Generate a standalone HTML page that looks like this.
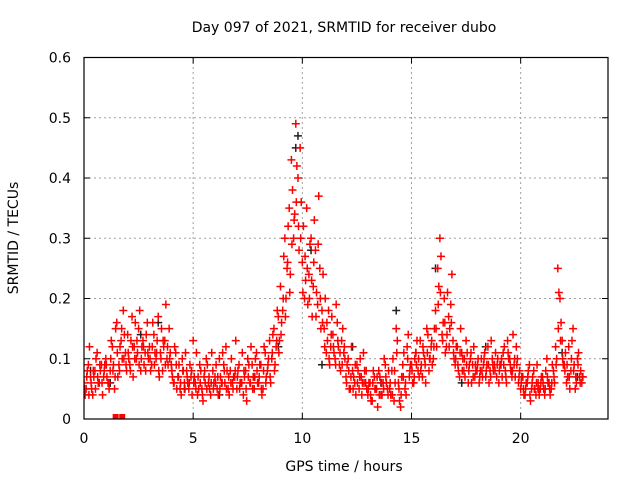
<!DOCTYPE html>
<html><head><meta charset="utf-8"><style>
body{margin:0;background:#fff}
svg{display:block;font-family:"DejaVu Sans","Liberation Sans",sans-serif}
</style></head><body>
<svg id="chart" width="640" height="480" viewBox="0 0 640 480">
<rect width="640" height="480" fill="#fff"/>
<text x="344" y="32" font-size="14" text-anchor="middle">Day 097 of 2021, SRMTID for receiver dubo</text>
<text transform="translate(18,238) rotate(-90)" font-size="14" text-anchor="middle">SRMTID / TECUs</text>
<text x="344" y="471" font-size="14" text-anchor="middle">GPS time / hours</text>
<defs><clipPath id="clip"><rect x="84" y="57" width="524" height="362"/></clipPath></defs>
<g id="grid"></g>
<g id="marks" clip-path="url(#clip)"></g>
<rect x="84" y="57.5" width="524" height="361.5" fill="none" stroke="#000" stroke-width="1.2"/>
<g id="ticks"></g>
</svg>
<script>
const xTicks=[0,5,10,15,20];
const yTicks=[0,0.1,0.2,0.3,0.4,0.5,0.6];
const yTickLabels=["0","0.1","0.2","0.3","0.4","0.5","0.6"];
const seriesA=[.06,.05,.09,.07,.04,.08,.11,.06,.09,.07,
.10,.06,.08,.12,.05,.16,.09,.13,.18,.11,
.14,.09,.17,.12,.10,.15,.08,.13,.11,.16,
.12,.09,.14,.10,.17,.11,.08,.13,.10,.15,
.09,.06,.11,.07,.05,.10,.06,.08,.05,.07,
.13,.06,.04,.09,.05,.07,.10,.06,.04,.08,
.07,.05,.10,.06,.09,.12,.05,.08,.06,.07,
.05,.09,.06,.04,.08,.10,.06,.09,.05,.11,
.06,.09,.05,.11,.08,.13,.10,.15,.12,.17,
.22,.18,.30,.25,.35,.43,.30,.49,.40,.45,
.26,.20,.35,.24,.30,.22,.28,.19,.25,.18,
.15,.11,.18,.12,.14,.10,.16,.09,.13,.11,
.07,.10,.05,.08,.06,.09,.05,.07,.11,.06,
.04,.06,.03,.07,.05,.08,.04,.06,.09,.05,
.05,.08,.03,.15,.06,.02,.09,.05,.12,.07,
.09,.06,.11,.08,.13,.07,.10,.15,.08,.12,
.10,.18,.25,.30,.14,.20,.12,.17,.19,.13,
.09,.12,.07,.11,.08,.13,.06,.10,.09,.07,
.08,.06,.10,.09,.07,.12,.08,.10,.09,.07,
.06,.09,.11,.08,.13,.10,.07,.09,.12,.06,
.05,.07,.04,.06,.09,.05,.08,.04,.06,.05,
.07,.04,.10,.06,.05,.08,.12,.25,.20,.13,
.09,.06,.12,.08,.15,.05,.10,.07,.06];
const seriesB=[.04,.08,.12,.05,.07,.10,.06,.08,.04,.09,
.07,.05,.13,.09,.15,.07,.12,.10,.14,.08,
.10,.13,.07,.16,.11,.18,.12,.09,.14,.10,
.08,.16,.11,.13,.07,.15,.12,.19,.09,.11,
.07,.12,.05,.09,.04,.08,.11,.06,.09,.04,
.07,.11,.05,.08,.03,.06,.09,.05,.11,.06,
.09,.04,.07,.11,.06,.08,.04,.10,.07,.13,
.08,.06,.11,.07,.03,.09,.12,.07,.10,.06,
.09,.04,.12,.07,.10,.06,.14,.09,.18,.13,
.16,.27,.20,.32,.24,.38,.34,.42,.28,.36,
.32,.23,.19,.29,.17,.33,.21,.37,.15,.24,
.20,.13,.09,.17,.11,.19,.12,.08,.15,.10,
.09,.05,.12,.07,.04,.08,.10,.06,.08,.05,
.06,.03,.08,.05,.02,.07,.04,.10,.06,.08,
.04,.10,.06,.13,.03,.07,.11,.04,.14,.09,
.06,.10,.13,.07,.09,.11,.06,.14,.10,.09,
.15,.12,.22,.27,.16,.11,.21,.15,.24,.10,
.12,.08,.15,.10,.07,.11,.09,.06,.12,.08,
.10,.08,.07,.11,.09,.06,.13,.08,.11,.10,
.09,.07,.12,.06,.10,.08,.14,.07,.10,.08,
.07,.04,.06,.08,.03,.07,.05,.09,.04,.07,
.05,.08,.06,.04,.09,.06,.10,.21,.16,.09,
.11,.07,.05,.13,.09,.06,.11,.08,.07];
const seriesC=[.05,.07,.04,.06,.08,.05,.07,.09,.06,.08,
.09,.06,.10,.08,.07,.11,.08,.15,.10,.09,
.11,.08,.12,.10,.13,.09,.10,.12,.08,.11,
.10,.12,.09,.11,.08,.10,.13,.09,.12,.10,
.08,.06,.09,.07,.06,.08,.05,.07,.06,.08,
.06,.05,.07,.06,.04,.08,.05,.07,.06,.05,
.06,.07,.05,.06,.08,.05,.07,.06,.05,.08,
.07,.05,.06,.08,.05,.07,.06,.05,.07,.08,
.07,.05,.08,.06,.09,.07,.11,.08,.13,.11,
.14,.20,.17,.26,.21,.29,.33,.36,.32,.30,
.21,.27,.25,.20,.23,.26,.17,.29,.20,.16,
.12,.16,.10,.14,.12,.09,.13,.11,.09,.12,
.06,.08,.07,.05,.09,.06,.07,.04,.06,.08,
.05,.04,.06,.05,.07,.04,.06,.05,.07,.04,
.06,.04,.08,.11,.05,.04,.07,.06,.10,.08,
.08,.07,.09,.10,.08,.12,.09,.11,.10,.13,
.12,.15,.19,.21,.13,.16,.14,.12,.16,.11,
.10,.09,.11,.08,.10,.09,.08,.11,.07,.09,
.09,.07,.08,.10,.08,.09,.07,.09,.08,.09,
.08,.10,.09,.07,.11,.09,.08,.10,.09,.07,
.06,.05,.05,.07,.04,.06,.05,.06,.05,.06,
.06,.05,.07,.05,.06,.07,.09,.15,.13,.10,
.08,.09,.07,.10,.08,.07,.09,.06,.07];
const zeroTimes=[1.45,1.75];
const blackTimes=[0.3,1.2,2.6,3.4,4.6,6.2,7.8,8.9,9.7,9.8,10.4,10.9,12.3,13.6,14.3,15.2,16.1,17.3,18.4,19.6,20.8,21.9,22.6];
const blackValues=[.08,.06,.14,.16,.05,.04,.07,.12,.45,.47,.28,.09,.12,.06,.18,.11,.25,.06,.12,.08,.05,.11,.07];

const X0=84,X1=608,Y0=419,Y1=57.5,XMAX=24,YMAX=0.6;
const xs=t=>X0+(X1-X0)*t/XMAX;
const ys=v=>Y0-(Y0-Y1)*v/YMAX;
const NS="http://www.w3.org/2000/svg";
const grid=document.getElementById('grid'),marks=document.getElementById('marks'),ticks=document.getElementById('ticks');
function el(tag,attrs,parent){const e=document.createElementNS(NS,tag);for(const k in attrs)e.setAttribute(k,attrs[k]);parent.appendChild(e);return e;}
xTicks.forEach(t=>{
  const x=xs(t);
  if(t>0){const g=el('line',{x1:x,x2:x,y1:Y0,y2:Y1,stroke:'#a0a0a0','stroke-dasharray':'2,3'},grid);
  
  }
  const tk=el('path',{d:`M${x},${Y0}v-6M${x},${Y1}v6`,stroke:'#000'},ticks);
  
  
  const lb=el('text',{x:x,y:443,'font-size':14,'text-anchor':'middle'},ticks);lb.textContent=t;
  
  
});
yTicks.forEach((v,i)=>{
  const y=ys(v);
  if(v>0&&v<YMAX){const g=el('line',{x1:X0,x2:X1,y1:y,y2:y,stroke:'#a0a0a0','stroke-dasharray':'2,3'},grid);
  
  }
  const tk=el('path',{d:`M${X0},${y}h6M${X1},${y}h-6`,stroke:'#000'},ticks);
  
  
  const lb=el('text',{x:71,y:y+5,'font-size':14,'text-anchor':'end'},ticks);lb.textContent=yTickLabels[i];
  
  
});
function plus(t,v,color,name){
  const x=xs(t),y=ys(v);
  const p=el('path',{d:`M${x-4},${y}h8M${x},${y-4}v8`,stroke:color,'stroke-width':1.5,fill:'none'},marks);
  
  
}
blackTimes.forEach((t,i)=>plus(t,blackValues[i],'#202020','black-point'));
seriesC.forEach((v,i)=>plus(i*0.1+0.025,v,'#ff0000','red-point'));
seriesA.forEach((v,i)=>plus(i*0.1,v,'#ff0000','red-point'));
seriesB.forEach((v,i)=>plus(i*0.1+0.05,v,'#ff0000','red-point'));
zeroTimes.forEach(t=>{
  const x=xs(t);
  const r=el('rect',{x:x-3,y:Y0-5,width:6,height:5,fill:'#ff0000'},marks);
  
  
});
</script>
</body></html>
